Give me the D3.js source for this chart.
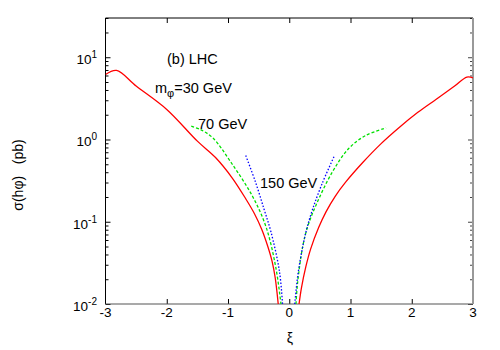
<!DOCTYPE html>
<html>
<head>
<meta charset="utf-8">
<script src="https://cdn.jsdelivr.net/npm/d3@7"></script>
<style>
  body { margin: 0; background: #fff; }
  svg text { font-family: "Liberation Sans", Arial, sans-serif; }
</style>
</head>
<body>
<div id="chart"></div>
<script>
// data: xi vs sigma (pb)
const redLeftXi = [-3, -2.82, -2.5, -2.0, -1.5, -1.2, -0.93, -0.71, -0.57, -0.45, -0.35, -0.28, -0.23, -0.18];
const redLeftSigma = [6.17, 6.92, 4.47, 2.32, 0.955, 0.60, 0.34, 0.19, 0.126, 0.081, 0.050, 0.033, 0.021, 0.010];
const redRightXi = [0.16, 0.2, 0.27, 0.35, 0.48, 0.6, 0.75, 0.93, 1.2, 1.5, 1.8, 2.1, 2.4, 2.7, 2.9, 3.0];
const redRightSigma = [0.010, 0.0158, 0.0282, 0.0468, 0.085, 0.132, 0.204, 0.309, 0.525, 0.891, 1.41, 2.14, 3.09, 4.47, 5.75, 5.62];
const greenLeftXi = [-1.6, -1.45, -1.25, -0.93, -0.6, -0.38, -0.22, -0.135];
const greenLeftSigma = [1.45, 1.32, 1.05, 0.50, 0.204, 0.087, 0.028, 0.010];
const greenRightXi = [0.11, 0.135, 0.22, 0.3, 0.435, 0.7, 0.97, 1.25, 1.58];
const greenRightSigma = [0.010, 0.0178, 0.050, 0.087, 0.158, 0.398, 0.776, 1.12, 1.38];
const blueLeftXi = [-0.71, -0.55, -0.41, -0.3, -0.16, -0.11];
const blueLeftSigma = [0.638, 0.302, 0.141, 0.076, 0.025, 0.010];
const blueRightXi = [0.09, 0.14, 0.2, 0.28, 0.38, 0.54, 0.73];
const blueRightSigma = [0.010, 0.0224, 0.0417, 0.079, 0.141, 0.295, 0.617];

const xTicks = [-3, -2, -1, 0, 1, 2, 3];
const yTicks = [0.01, 0.1, 1, 10];
const yExponents = ["-2", "-1", "0", "1"];

const width = 500, height = 350;
const margin = { left: 105.5, right: 27, top: 18, bottom: 46 };

const svg = d3.select("#chart").append("svg")
  .attr("width", width)
  .attr("height", height);

const x = d3.scaleLinear().domain([-3, 3]).range([margin.left, width - margin.right]);
const y = d3.scaleLog().domain([0.01, 30]).range([height - margin.bottom, margin.top]);

const minorTicks = [];
[0.01, 0.1, 1, 10].forEach(d => {
  for (let k = 2; k <= 9; k++) if (d * k <= 30) minorTicks.push(d * k);
});

// axes, ticks pointing inward
svg.append("g")
  .attr("transform", `translate(0,${y.range()[0]})`)
  .call(d3.axisBottom(x).tickValues(xTicks.slice(1, -1)).tickSize(-5).tickFormat(""));
svg.append("g")
  .attr("transform", `translate(0,${margin.top})`)
  .call(d3.axisTop(x).tickValues(xTicks.slice(1, -1)).tickSize(-5).tickFormat(""));
svg.append("g")
  .attr("transform", `translate(${margin.left},0)`)
  .call(d3.axisLeft(y).tickValues(yTicks).tickSize(-5).tickFormat(""));
svg.append("g")
  .attr("transform", `translate(${margin.left},0)`)
  .call(d3.axisLeft(y).tickValues(minorTicks).tickSize(-3).tickFormat(""));
const rightMajor = svg.append("g")
  .attr("transform", `translate(${x.range()[1]},0)`)
  .call(d3.axisRight(y).tickValues(yTicks).tickSize(-5).tickFormat(""));
const rightMinor = svg.append("g")
  .attr("transform", `translate(${x.range()[1]},0)`)
  .call(d3.axisRight(y).tickValues(minorTicks).tickSize(-3).tickFormat(""));

svg.selectAll(".domain").remove();
svg.selectAll(".tick line").attr("stroke", "#000").attr("stroke-width", 1);
rightMajor.selectAll(".tick line").attr("stroke", "#444");
rightMinor.selectAll(".tick line").attr("stroke", "#444");

// frame
const x0 = x.range()[0], x1 = x.range()[1], y0 = y.range()[0], y1 = y.range()[1];
svg.append("line").attr("x1", x0).attr("x2", x1).attr("y1", y1).attr("y2", y1).attr("stroke", "#000");
svg.append("line").attr("x1", x0).attr("x2", x0).attr("y1", y1).attr("y2", y0).attr("stroke", "#000");
svg.append("line").attr("x1", x0).attr("x2", x1).attr("y1", y0).attr("y2", y0).attr("stroke", "#555").attr("stroke-width", 1.2);
svg.append("line").attr("x1", x1).attr("x2", x1).attr("y1", y1).attr("y2", y0).attr("stroke", "#999").attr("stroke-width", 2);

// tick labels
svg.selectAll(".xlab").data(xTicks).enter().append("text")
  .attr("x", d => x(d))
  .attr("y", 317)
  .attr("text-anchor", "middle")
  .attr("font-size", 13.5)
  .text(d => d);

const ylab = svg.selectAll(".ylab").data(yTicks).enter().append("text")
  .attr("x", 97)
  .attr("y", d => y(d) + 7)
  .attr("text-anchor", "end")
  .attr("font-size", 13.5);
ylab.append("tspan").text("10");
ylab.append("tspan").attr("dy", -6).attr("font-size", 10).text((d, i) => yExponents[i]);

// axis titles
svg.append("text")
  .attr("x", 290).attr("y", 343)
  .attr("text-anchor", "middle")
  .attr("font-size", 14)
  .text("ξ");
svg.append("text")
  .attr("transform", "translate(23,175) rotate(-90)")
  .attr("text-anchor", "middle")
  .attr("font-size", 14)
  .attr("xml:space", "preserve")
  .text("σ(hφ)   (pb)");

// curves
svg.append("clipPath").attr("id", "clip")
  .append("rect").attr("x", x0).attr("y", y1).attr("width", x1 - x0).attr("height", y0 - y1);

const line = d3.line()
  .x(d => x(d[0]))
  .y(d => y(d[1]))
  .curve(d3.curveCatmullRom.alpha(0.5));

const series = [
  { xi: redLeftXi, s: redLeftSigma, color: "#ff0000", dash: null },
  { xi: redRightXi, s: redRightSigma, color: "#ff0000", dash: null },
  { xi: greenLeftXi, s: greenLeftSigma, color: "#00e000", dash: "3,2" },
  { xi: greenRightXi, s: greenRightSigma, color: "#00e000", dash: "3,2" },
  { xi: blueLeftXi, s: blueLeftSigma, color: "#0000ff", dash: "1.5,1.8" },
  { xi: blueRightXi, s: blueRightSigma, color: "#0000ff", dash: "1.5,1.8" }
];

svg.append("g").attr("clip-path", "url(#clip)")
  .selectAll("path").data(series).enter().append("path")
  .attr("d", d => line(d.xi.map((v, i) => [v, d.s[i]])))
  .attr("fill", "none")
  .attr("stroke", d => d.color)
  .attr("stroke-width", 1.3)
  .attr("stroke-dasharray", d => d.dash);

// labels inside the plot
svg.append("text").attr("x", 167).attr("y", 63.5).attr("font-size", 14.5).text("(b) LHC");
const mlab = svg.append("text").attr("x", 155).attr("y", 93).attr("font-size", 14.5);
mlab.append("tspan").text("m");
mlab.append("tspan").attr("dy", 4).attr("font-size", 11).text("φ");
mlab.append("tspan").attr("dy", -4).text("=30 GeV");
svg.append("text").attr("x", 198).attr("y", 128.5).attr("font-size", 14.5).text("70 GeV");
svg.append("text").attr("x", 260).attr("y", 188).attr("font-size", 14.5).text("150 GeV");
</script>
</body>
</html>
